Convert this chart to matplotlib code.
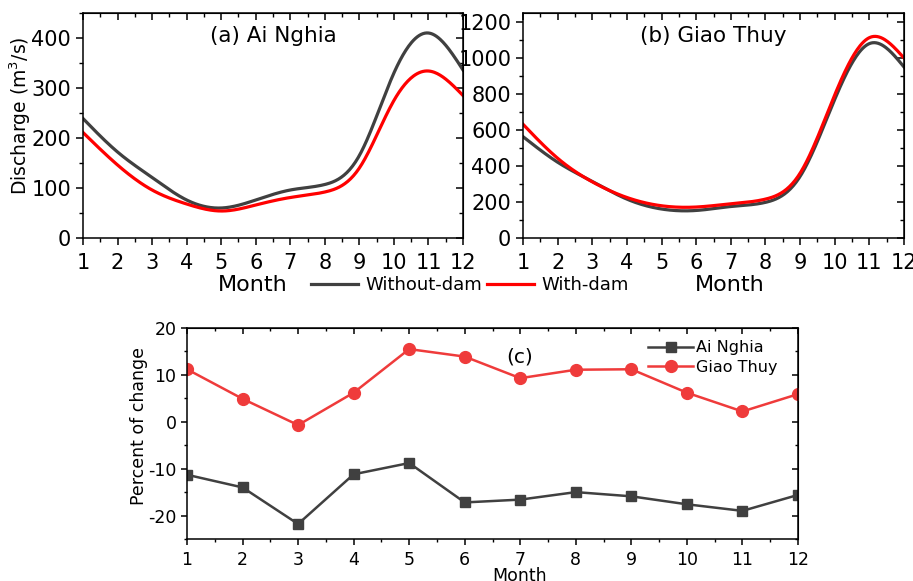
import numpy as np
import matplotlib
matplotlib.use("Agg")
import matplotlib.pyplot as plt
from matplotlib.ticker import MultipleLocator

plt.rcParams['font.family'] = ['DejaVu Sans']
plt.rcParams['axes.unicode_minus'] = False

# === Data ===
months = np.arange(1, 13)

# (a) Ai Nghia discharge (m3/s)
ainghia_without = [239, 172, 121, 76, 60, 76, 96, 107, 165, 330, 410, 336]
ainghia_with = [211, 146, 96, 68, 54, 66, 81, 92, 140, 275, 334, 285]

# (b) Giao Thuy discharge (m3/s)
giaothuy_without = [563, 421, 314, 216, 161, 153, 175, 198, 342, 770, 1080, 950]
giaothuy_with = [632, 443, 312, 225, 179, 172, 190, 216, 360, 795, 1113, 1000]

# (c) percent of change
pct_ainghia = [-11.3, -14.0, -21.8, -11.2, -8.8, -17.2, -16.6, -15.0, -15.9, -17.6, -19.0, -15.6]
pct_giaothuy = [11.2, 4.9, -0.7, 6.2, 15.5, 13.9, 9.3, 11.1, 11.2, 6.2, 2.2, 5.9]

GRAY = '#404040'
RED = '#ff0000'
RED_C = '#ef3b3b'


# === Helper: natural cubic spline (numpy only) ===
def natural_spline(x, y, xs):
    x = np.asarray(x, float)
    y = np.asarray(y, float)
    n = len(x)
    h = np.diff(x)
    A = np.zeros((n, n))
    r = np.zeros(n)
    A[0, 0] = A[-1, -1] = 1
    for i in range(1, n - 1):
        A[i, i - 1] = h[i - 1]
        A[i, i] = 2 * (h[i - 1] + h[i])
        A[i, i + 1] = h[i]
        r[i] = 3 * ((y[i + 1] - y[i]) / h[i] - (y[i] - y[i - 1]) / h[i - 1])
    c = np.linalg.solve(A, r)
    b = (y[1:] - y[:-1]) / h - h * (2 * c[:-1] + c[1:]) / 3
    d = (c[1:] - c[:-1]) / (3 * h)
    idx = np.clip(np.searchsorted(x, xs) - 1, 0, n - 2)
    dx = xs - x[idx]
    return y[idx] + b[idx] * dx + c[idx] * dx ** 2 + d[idx] * dx ** 3


def style_axes(ax, ymajor, yminor, labelsize, ticklen):
    ax.set_xlim(1, 12)
    ax.xaxis.set_major_locator(MultipleLocator(1))
    ax.xaxis.set_minor_locator(MultipleLocator(0.5))
    ax.yaxis.set_major_locator(MultipleLocator(ymajor))
    ax.yaxis.set_minor_locator(MultipleLocator(yminor))
    ax.tick_params(which='major', direction='out', length=ticklen, width=1.1,
                   labelsize=labelsize)
    ax.tick_params(which='minor', direction='out', length=ticklen * 0.55, width=1.0)
    for s in ax.spines.values():
        s.set_linewidth(1.1)
    # mirrored ticks (inward) on top / right
    top = ax.secondary_xaxis('top')
    top.xaxis.set_major_locator(MultipleLocator(1))
    top.xaxis.set_minor_locator(MultipleLocator(0.5))
    top.tick_params(which='major', direction='in', length=ticklen, width=1.1, labeltop=False)
    top.tick_params(which='minor', direction='in', length=ticklen * 0.55, width=1.0)
    right = ax.secondary_yaxis('right')
    right.yaxis.set_major_locator(MultipleLocator(ymajor))
    right.yaxis.set_minor_locator(MultipleLocator(yminor))
    right.tick_params(which='major', direction='in', length=ticklen, width=1.1, labelright=False)
    right.tick_params(which='minor', direction='in', length=ticklen * 0.55, width=1.0)


W, H = 913, 581
fig = plt.figure(figsize=(W / 100, H / 100), dpi=100)


def px_axes(l, t, r, b):
    return fig.add_axes([l / W, 1 - b / H, (r - l) / W, (b - t) / H])


def px_text(x, y, s, **kw):
    return fig.text(x / W, 1 - y / H, s, **kw)


xs = np.linspace(1, 12, 400)

# === Panel (a) ===
ax_a = px_axes(83, 13, 463, 238)
l1, = ax_a.plot(xs, natural_spline(months, ainghia_without, xs), color=GRAY, lw=2.3)
l2, = ax_a.plot(xs, natural_spline(months, ainghia_with, xs), color=RED, lw=2.3)
ax_a.set_ylim(0, 450)
style_axes(ax_a, 100, 50, 15, 5)
ax_a.tick_params(axis='x', pad=6)
ax_a.text(0.5, 0.9, '(a) Ai Nghia', transform=ax_a.transAxes, ha='center', va='center',
          fontsize=15.5)

# === Panel (b) ===
ax_b = px_axes(523, 13, 904, 238)
ax_b.plot(xs, natural_spline(months, giaothuy_without, xs), color=GRAY, lw=2.3)
ax_b.plot(xs, natural_spline(months, giaothuy_with, xs), color=RED, lw=2.3)
ax_b.set_ylim(0, 1250)
style_axes(ax_b, 200, 100, 15, 5)
ax_b.tick_params(axis='x', pad=6)
ax_b.text(0.5, 0.9, '(b) Giao Thuy', transform=ax_b.transAxes, ha='center', va='center',
          fontsize=15.5)

px_text(20, 116, 'Discharge (m$^3$/s)', rotation=90, ha='center', va='center', fontsize=13.5)
px_text(253, 285, 'Month', ha='center', va='center', fontsize=16)
px_text(730, 285, 'Month', ha='center', va='center', fontsize=16)

fig.legend([l1, l2], ['Without-dam', 'With-dam'], loc='center',
           bbox_to_anchor=(470 / W, 1 - 285 / H), ncol=2, frameon=False, fontsize=13,
           handlelength=2.6, handletextpad=0.4, columnspacing=0.3, borderpad=0)

# === Panel (c) ===
ax_c = px_axes(187, 328, 798, 539)
ax_c.plot(months, pct_ainghia, color=GRAY, lw=1.8, marker='s', ms=7.5, label='Ai Nghia')
ax_c.plot(months, pct_giaothuy, color=RED_C, lw=1.8, marker='o', ms=8.5, label='Giao Thuy')
ax_c.set_ylim(-25, 20)
style_axes(ax_c, 10, 5, 12.5, 4.5)
ax_c.tick_params(axis='x', pad=4)
ax_c.tick_params(axis='y', pad=3)
ax_c.legend(loc='upper right', bbox_to_anchor=(0.985, 0.995), frameon=False, fontsize=11.5,
            handlelength=2.8, handletextpad=0.2, labelspacing=0.3, borderpad=0.2)
px_text(520, 357, '(c)', ha='center', va='center', fontsize=14.5)
px_text(139, 426, 'Percent of change', rotation=90, ha='center', va='center', fontsize=12.5)
px_text(520, 567, 'Month', ha='center', va='top', fontsize=12.5)

fig.savefig('out.png', dpi=100)
